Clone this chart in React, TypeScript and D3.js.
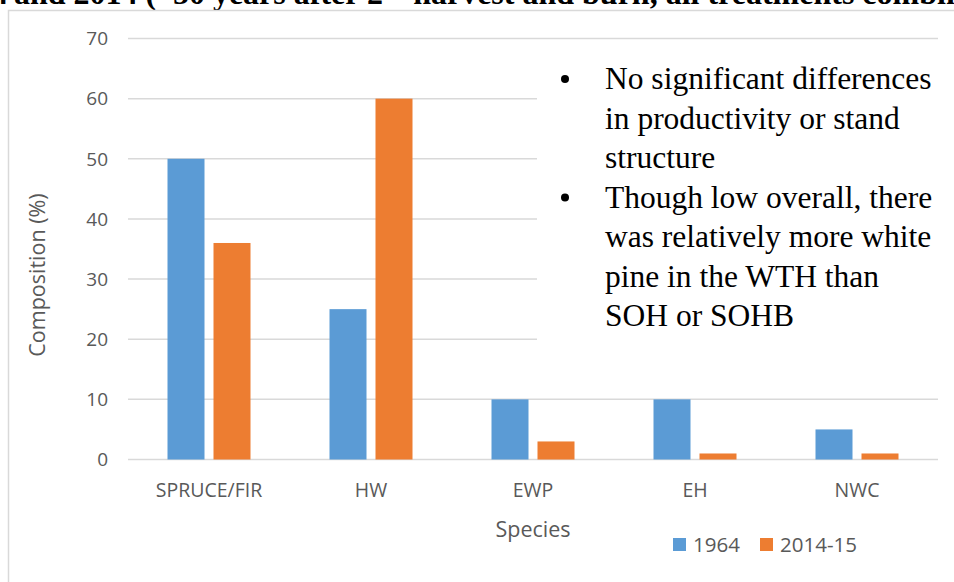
import React from "react";
import * as d3 from "d3";

const categories = ["SPRUCE/FIR", "HW", "EWP", "EH", "NWC"];
const series1964 = [50, 25, 10, 10, 5];
const series2014 = [36, 60, 3, 1, 1];
const seriesNames = ["1964", "2014-15"];
const seriesColors = ["#5B9BD5", "#ED7D31"];
const yTicks = [0, 10, 20, 30, 40, 50, 60, 70];
const notes = [
  ["No significant differences", "in productivity or stand", "structure"],
  ["Though low overall, there", "was relatively more white", "pine in the WTH than", "SOH or SOHB"],
];

const W = 954;
const H = 582;
const plot = { left: 128, right: 938, top: 38.5, bottom: 459.5 };
const sans = "'Open Sans', 'Noto Sans', sans-serif";
const serif = "'Liberation Serif', 'Times New Roman', serif";

export default function App() {
  const x = d3.scaleBand<string>().domain(categories).range([plot.left, plot.right]);
  const y = d3.scaleLinear().domain([0, 70]).range([plot.bottom, plot.top]);
  const barW = 37;
  const gap = 9;
  const series = [series1964, series2014];

  const noteLines: { text: string; bullet: boolean }[] = [];
  notes.forEach((group) =>
    group.forEach((t, i) => noteLines.push({ text: t, bullet: i === 0 }))
  );

  return (
    <svg
      width={W}
      height={H}
      style={{ position: "absolute", left: 0, top: 0, background: "#fff" }}
    >
      {/* slide heading, running off the top of the page */}
      <text y={4} fontFamily={serif} fontWeight="bold" fontSize={32} fill="#000">
        <tspan x={8} textAnchor="end">1964</tspan>
        <tspan x={14}>and 2014 (~50 years after 2</tspan>
        <tspan fontSize={20} dy={-12}>nd</tspan>
        <tspan dy={12}> harvest and burn, all treatments combined)</tspan>
      </text>

      {/* chart frame */}
      <rect x={8.5} y={10.5} width={1000} height={1000} fill="#fff" stroke="#d9d9d9" strokeWidth={1.5} />

      {/* gridlines and y tick labels */}
      {yTicks.map((t) => (
        <g key={t}>
          <line x1={plot.left} x2={plot.right} y1={y(t)} y2={y(t)} stroke="#d9d9d9" strokeWidth={1.5} />
          <text
            x={108}
            y={y(t)}
            dy="0.36em"
            textAnchor="end"
            fontFamily={sans}
            fontSize={19}
            fill="#595959"
          >
            {t}
          </text>
        </g>
      ))}

      {/* bars */}
      {categories.map((c, i) => {
        const cx = (x(c) as number) + x.bandwidth() / 2;
        return series.map((s, k) => {
          const x0 = k === 0 ? cx - gap / 2 - barW : cx + gap / 2;
          return (
            <rect
              key={c + k}
              x={x0}
              y={y(s[i])}
              width={barW}
              height={y(0) - y(s[i])}
              fill={seriesColors[k]}
            />
          );
        });
      })}

      {/* category labels */}
      {categories.map((c) => (
        <text
          key={c}
          x={(x(c) as number) + x.bandwidth() / 2}
          y={497}
          textAnchor="middle"
          fontFamily={sans}
          fontSize={19.5}
          fill="#595959"
        >
          {c}
        </text>
      ))}

      {/* axis titles */}
      <text x={533} y={537} textAnchor="middle" fontFamily={sans} fontSize={21.5} fill="#595959">
        Species
      </text>
      <text
        transform="translate(45,275) rotate(-90)"
        textAnchor="middle"
        fontFamily={sans}
        fontSize={21.5}
        fill="#595959"
      >
        Composition (%)
      </text>

      {/* legend */}
      {seriesNames.map((n, k) => {
        const lx = [673, 760][k];
        return (
          <g key={n}>
            <rect x={lx} y={538} width={13} height={13} fill={seriesColors[k]} />
            <text x={lx + 20} y={552} fontFamily={sans} fontSize={20.5} fill="#595959">
              {n}
            </text>
          </g>
        );
      })}

      {/* notes box */}
      <rect x={537} y={52} width={420} height={296} fill="#fff" />
      {noteLines.map((l, i) => {
        const by = 89 + i * 39.5;
        return (
          <g key={i}>
            {l.bullet && <circle cx={565} cy={by - 10} r={4} fill="#000" />}
            <text x={605} y={by} fontFamily={serif} fontSize={31.5} fill="#000">
              {l.text}
            </text>
          </g>
        );
      })}
    </svg>
  );
}
